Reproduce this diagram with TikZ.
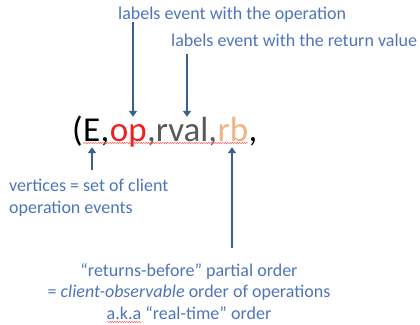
\documentclass[tikz,border=0pt]{standalone}
\usepackage{fontspec}
\setmainfont{Carlito}
\usetikzlibrary{positioning,arrows.meta,decorations.pathmorphing}

\definecolor{notetext}{RGB}{78,116,188}
\definecolor{notearrow}{RGB}{58,96,145}
\definecolor{opred}{RGB}{240,32,32}
\definecolor{rvalgray}{RGB}{89,89,89}
\definecolor{rborange}{RGB}{244,177,131}

\begin{document}
\begin{tikzpicture}[x=1pt,y=-1pt,
        note/.style={inner sep=0pt, text=notetext, font=\fontsize{18}{21.5}\selectfont},
        part/.style={inner sep=0pt, font=\fontsize{35}{40}\selectfont, text height=24pt, text depth=6pt},
        pointer/.style={notearrow, line width=2.5pt, -{Triangle[width=8pt,length=6pt]}},
        spellwave/.style={red!75, line width=0.4pt, decorate,
            decoration={snake, amplitude=0.6pt, segment length=2.4pt}}]

            \useasboundingbox (0,0) rectangle (420,324);

            % the tuple, one piece per component
            \node[part, anchor=base west] (lp) at (72,141) {(};
            \node[part, base right=0pt of lp] (ev) {E};
            \node[part, base right=0pt of ev] (c1) {,};
            \node[part, base right=0pt of c1, text=opred] (op) {op};
            \node[part, base right=0pt of op, text=rvalgray] (rv) {,rval,};
            \node[part, base right=0pt of rv, text=rborange] (rb) {rb};
            \node[part, base right=0pt of rb] (c4) {,};

            % annotations (multi-line ones sit on their last baseline)
            \node[note, anchor=base west] (opnote) at (118,19) {labels event with the operation};
            \node[note, anchor=base west] (rvnote) at (171,46) {labels event with the return value};
            \node[note, anchor=base west, align=left] (evnote) at (9,213)
                {vertices = set of client\\operation events};
            \node[note, anchor=base, align=center] (rbnote) at (189,319)
                {“returns-before” partial order\\= \textit{client-observable} order of operations\\a.k.a “real-time” order};

            \coordinate (optail) at (133,22);
            \coordinate (rvtail) at (187,54);
            \coordinate (evtail) at (92,170);
            \coordinate (rbtail) at (232,248);

            \draw[pointer] (optail) -- (optail |- op.north);
            \draw[pointer] (rvtail) -- (rvtail |- rv.north);
            \draw[pointer] (evtail) -- (evtail |- ev.south);
            \draw[pointer] (rbtail) -- (rbtail |- rb.south);

            % spell-check squiggles
            \draw[spellwave] ([yshift=-2pt]ev.base west) -- ([yshift=-2pt]rb.base east);
            \draw[spellwave] (107,322) -- (142,322);

\end{tikzpicture}
\end{document}
